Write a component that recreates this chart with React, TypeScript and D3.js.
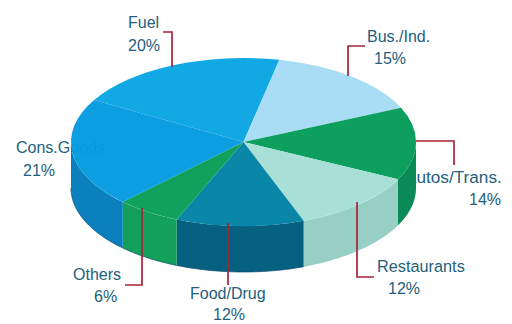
import React from "react";
import * as d3 from "d3";

// Revenue share by merchant segment, in percent, clockwise from Fuel.
const segments = ["Fuel", "Bus./Ind.", "Autos/Trans.", "Restaurants", "Food/Drug", "Others", "Cons.Goods"];
const shares = [20, 15, 14, 12, 12, 6, 21];
const topColors = ["#12a8e4", "#a9dcf5", "#0c9f5e", "#a8e0d8", "#0a86a8", "#10a25c", "#059ae0"];
const sideColors = ["#0c86bd", "#8ab8d0", "#0a8a55", "#98cfc4", "#06607f", "#12a05a", "#0a80bf"];
const topOpacity = [1, 1, 1, 1, 1, 1, 0.97];

const WIDTH = 512;
const HEIGHT = 324;
const CX = 243.5;
const CY = 142;
const RX = 172.5;
const RY = 84;
const DEPTH = 46;
const START = (-60 * Math.PI) / 180;

const TEXT = "#23607c";
const LEADER = "#ac2038";

// Each label line carries its own left edge and baseline.
type Line = { x: number; y: number; size?: number };
const labelLines: Line[][] = [
  [{ x: 128, y: 28 }, { x: 128, y: 51 }],
  [{ x: 367, y: 42 }, { x: 374, y: 64 }],
  [{ x: 405, y: 183, size: 17.2 }, { x: 469, y: 205 }],
  [{ x: 377, y: 272, size: 16.3 }, { x: 388, y: 294 }],
  [{ x: 190, y: 299 }, { x: 213, y: 320 }],
  [{ x: 73, y: 280 }, { x: 94, y: 302 }],
  [{ x: 16, y: 153 }, { x: 23, y: 176 }],
];
const leaders = [
  [[163, 32], [172, 32], [172, 67]],
  [[365, 46], [348, 46], [348, 76]],
  [[416, 141], [454, 141], [454, 165]],
  [[357, 202], [357, 277], [374, 277]],
  [[228, 223], [228, 285]],
  [[142, 208], [142, 285], [125, 285]],
];

const rim = (a: number, dy = 0): [number, number] => [
  CX + RX * Math.sin(a),
  CY - RY * Math.cos(a) + dy,
];

export default function App() {
  const pie = d3
    .pie<number>()
    .sort(null)
    .startAngle(START)
    .endAngle(START + 2 * Math.PI);
  const arcs = pie(shares);
  const topArc = d3.arc<d3.PieArcDatum<number>>().innerRadius(0).outerRadius(RX);
  const line = d3.line();

  // The stretch of a slice's rim that faces the viewer, as sampled angles.
  const frontAngles = (a0: number, a1: number) => {
    const lo = Math.max(a0, Math.PI / 2);
    const hi = Math.min(a1, (3 * Math.PI) / 2);
    if (hi <= lo) return null;
    return d3.range(0, 41).map((i) => lo + ((hi - lo) * i) / 40);
  };
  const wall = (steps: number[]) =>
    line([...steps.map((a) => rim(a)), ...steps.slice().reverse().map((a) => rim(a, DEPTH))]) + "Z";

  return (
    <svg
      width={WIDTH}
      height={HEIGHT}
      viewBox={`0 0 ${WIDTH} ${HEIGHT}`}
      style={{ position: "absolute", left: 0, top: 0, background: "#fff" }}
    >
      {/* Labels sit behind the pie, which hides the ends that run into it. */}
      {segments.map((name, i) => {
        const pct = `${shares[i]}%`;
        return (
          <g key={name} fill={TEXT} fontFamily="Liberation Sans, Arial, sans-serif" fontSize={16}>
            {[name, pct].map((t, j) => (
              <text
                key={j}
                x={labelLines[i][j].x}
                y={labelLines[i][j].y}
                fontSize={labelLines[i][j].size ?? 16}
              >
                {t}
              </text>
            ))}
          </g>
        );
      })}
      {arcs.map((d, i) => {
        const steps = frontAngles(d.startAngle, d.endAngle);
        return steps ? <path key={i} d={wall(steps)} fill={sideColors[i]} /> : null;
      })}
      {/* Thin dark edge along the bottom of the cool-coloured walls. */}
      {arcs.map((d, i) => {
        const steps = i >= 4 ? frontAngles(d.startAngle, d.endAngle) : null;
        return steps ? (
          <path
            key={i}
            d={line(steps.map((a) => rim(a, DEPTH))) ?? ""}
            fill="none"
            stroke="#0b4a70"
            strokeWidth={1}
            opacity={0.7}
          />
        ) : null;
      })}
      <g transform={`translate(${CX},${CY}) scale(1,${RY / RX})`}>
        {arcs.map((d, i) => (
          <path key={i} d={topArc(d) ?? ""} fill={topColors[i]} fillOpacity={topOpacity[i]} />
        ))}
      </g>
      {leaders.map((pts, i) => (
        <path
          key={i}
          d={line(pts as [number, number][]) ?? ""}
          fill="none"
          stroke={LEADER}
          strokeWidth={1.7}
        />
      ))}
    </svg>
  );
}
